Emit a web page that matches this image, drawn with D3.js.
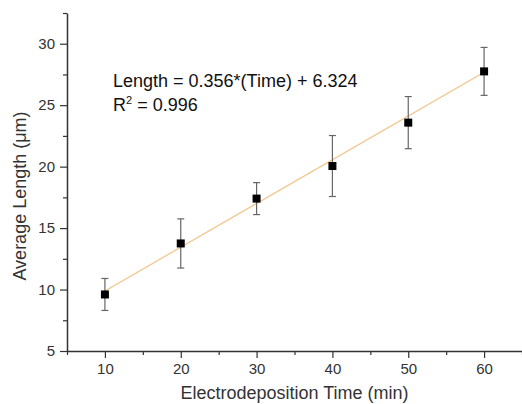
<!DOCTYPE html>
<html>
<head>
<meta charset="utf-8">
<script src="https://cdn.jsdelivr.net/npm/d3@7"></script>
<style>
  body { margin: 0; background: #fff; }
  svg { display: block; font-family: "Liberation Sans", Arial, sans-serif; }
</style>
</head>
<body>
<div id="chart"></div>
<script>
// measured data
const times = [10, 20, 30, 40, 50, 60];
const lengths = [9.6, 13.75, 17.4, 20.05, 23.58, 27.75];
const errors = [1.3, 2.0, 1.3, 2.48, 2.12, 1.95];

// linear fit printed on the chart
const fitSlope = 0.356;
const fitIntercept = 6.324;

const xTicks = [10, 20, 30, 40, 50, 60];
const xMinorTicks = [5, 15, 25, 35, 45, 55, 65];
const yTicks = [5, 10, 15, 20, 25, 30];
const yMinorTicks = [7.5, 12.5, 17.5, 22.5, 27.5, 32.5];

const width = 522, height = 404;

const svg = d3.select('#chart').append('svg')
    .attr('width', width)
    .attr('height', height);

const x = d3.scaleLinear().domain([5, 65]).range([67, 522]);
const y = d3.scaleLinear().domain([5, 32.5]).range([351, 13]);

const axisColor = '#333';

// fit line
const fitData = d3.extent(times).map(t => ({ t, v: fitSlope * t + fitIntercept }));
svg.append('path')
    .datum(fitData)
    .attr('fill', 'none')
    .attr('stroke', '#f2c488')
    .attr('stroke-width', 1.2)
    .attr('d', d3.line().x(d => x(d.t)).y(d => y(d.v)));

// error bars
const points = times.map((t, i) => ({ t, v: lengths[i], e: errors[i] }));
const errG = svg.append('g').attr('stroke', '#666').attr('stroke-width', 1.2);
errG.selectAll('.stem')
    .data(points)
    .enter().append('line')
    .attr('x1', d => x(d.t)).attr('x2', d => x(d.t))
    .attr('y1', d => y(d.v - d.e)).attr('y2', d => y(d.v + d.e));
errG.selectAll('.capTop')
    .data(points)
    .enter().append('line')
    .attr('x1', d => x(d.t) - 3.5).attr('x2', d => x(d.t) + 3.5)
    .attr('y1', d => y(d.v + d.e)).attr('y2', d => y(d.v + d.e));
errG.selectAll('.capBot')
    .data(points)
    .enter().append('line')
    .attr('x1', d => x(d.t) - 3.5).attr('x2', d => x(d.t) + 3.5)
    .attr('y1', d => y(d.v - d.e)).attr('y2', d => y(d.v - d.e));

// markers
svg.selectAll('.pt')
    .data(points)
    .enter().append('rect')
    .attr('x', d => x(d.t) - 4)
    .attr('y', d => y(d.v) - 4)
    .attr('width', 8)
    .attr('height', 8)
    .attr('fill', '#000');

// axes
function styleAxis(g) {
    g.select('.domain').attr('stroke', axisColor).attr('stroke-width', 1.5);
    g.selectAll('.tick line').attr('stroke', axisColor).attr('stroke-width', 1.2);
    g.selectAll('.tick text').attr('fill', '#333').style('font-size', '15px');
}

svg.append('g')
    .attr('transform', 'translate(0,351)')
    .call(d3.axisBottom(x).tickValues(xMinorTicks).tickFormat('').tickSize(4).tickSizeOuter(0))
    .call(styleAxis);
svg.append('g')
    .attr('transform', 'translate(0,351)')
    .call(d3.axisBottom(x).tickValues(xTicks).tickSize(7).tickPadding(5).tickSizeOuter(0))
    .call(styleAxis)
    .call(g => g.select('.domain').remove());

svg.append('g')
    .attr('transform', 'translate(67,0)')
    .call(d3.axisLeft(y).tickValues(yMinorTicks).tickFormat('').tickSize(4).tickSizeOuter(0))
    .call(styleAxis);
svg.append('g')
    .attr('transform', 'translate(67,0)')
    .call(d3.axisLeft(y).tickValues(yTicks).tickSize(7).tickPadding(5).tickSizeOuter(0))
    .call(styleAxis)
    .call(g => g.select('.domain').remove());

// axis titles
svg.append('text')
    .attr('x', 294.5)
    .attr('y', 399)
    .attr('text-anchor', 'middle')
    .attr('fill', '#333')
    .style('font-size', '18px')
    .text('Electrodeposition Time (min)');

svg.append('text')
    .attr('transform', 'translate(26,196) rotate(-90)')
    .attr('text-anchor', 'middle')
    .attr('fill', '#333')
    .style('font-size', '18px')
    .text('Average Length (\u03bcm)');

// fit annotation
svg.append('text')
    .attr('x', 113)
    .attr('y', 87)
    .attr('fill', '#111')
    .style('font-size', '18px')
    .text(`Length = ${fitSlope}*(Time) + ${fitIntercept}`);

const r2 = svg.append('text')
    .attr('x', 113)
    .attr('y', 111)
    .attr('fill', '#111')
    .style('font-size', '18px');
r2.append('tspan').text('R');
r2.append('tspan').attr('dy', -7).style('font-size', '11px').text('2');
r2.append('tspan').attr('dy', 7).text(' = 0.996');
</script>
</body>
</html>
